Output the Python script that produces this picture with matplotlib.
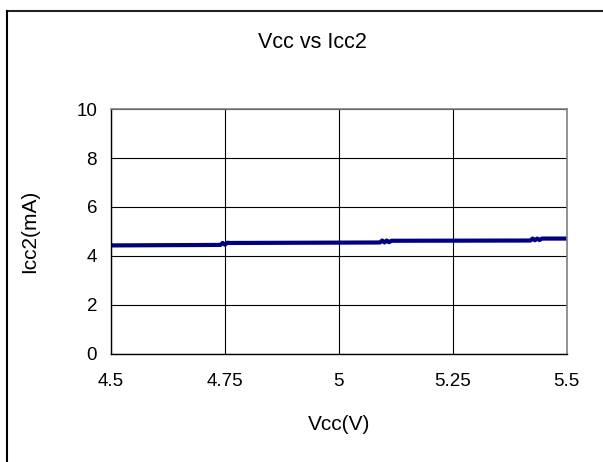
import matplotlib.pyplot as plt
from matplotlib.lines import Line2D

# Vcc vs Icc2
vcc = [4.50, 4.740, 4.745, 4.750, 4.755, 4.760, 5.090, 5.095, 5.100, 5.105, 5.110,
       5.115, 5.420, 5.425, 5.430, 5.435, 5.440, 5.445, 5.500]
icc2 = [4.43, 4.45, 4.53, 4.46, 4.54, 4.53, 4.55, 4.63, 4.55, 4.63, 4.56,
        4.62, 4.63, 4.71, 4.64, 4.71, 4.65, 4.71, 4.71]

x_ticks = [4.5, 4.75, 5, 5.25, 5.5]
x_labels = ["4.5", "4.75", "5", "5.25", "5.5"]
y_ticks = [0, 2, 4, 6, 8, 10]

plt.rcParams['font.family'] = ['Liberation Sans', 'DejaVu Sans']

fig = plt.figure(figsize=(6.03, 4.62), dpi=100)
ax = fig.add_axes([0.184, 0.234, 0.756, 0.530])

ax.plot(vcc, icc2, color='#000080', linewidth=3.0, solid_capstyle='round')

ax.set_xlim(4.5, 5.5)
ax.set_ylim(0, 10)
ax.set_xticks(x_ticks)
ax.set_xticklabels(x_labels)
ax.set_yticks(y_ticks)
ax.tick_params(axis='x', length=0, labelsize=13.5, pad=14)
ax.tick_params(axis='y', length=0, labelsize=13.5, pad=10)
ax.grid(True, color='black', linewidth=0.8)

for side in ['left', 'bottom']:
    ax.spines[side].set_color('black')
    ax.spines[side].set_linewidth(1.0)
for side in ['top', 'right']:
    ax.spines[side].set_color('#808080')
    ax.spines[side].set_linewidth(1.2)

ax.set_xlabel("Vcc(V)", fontsize=15, labelpad=18)
ax.set_ylabel("Icc2(mA)", fontsize=15)
ax.yaxis.set_label_coords(-0.158, 0.5)
fig.text(0.518, 0.909, "Vcc vs Icc2", ha='center', va='center', fontsize=15.5)

# ramka wykresu (widoczna tylko góra i lewa strona)
fig.add_artist(Line2D([7 / 603, 1.0], [1 - 11 / 462, 1 - 11 / 462],
                      transform=fig.transFigure, color='#222222', linewidth=1.5))
fig.add_artist(Line2D([7 / 603, 7 / 603], [0.0, 1 - 11 / 462],
                      transform=fig.transFigure, color='black', linewidth=1.5))

plt.savefig("out.png", dpi=100)
